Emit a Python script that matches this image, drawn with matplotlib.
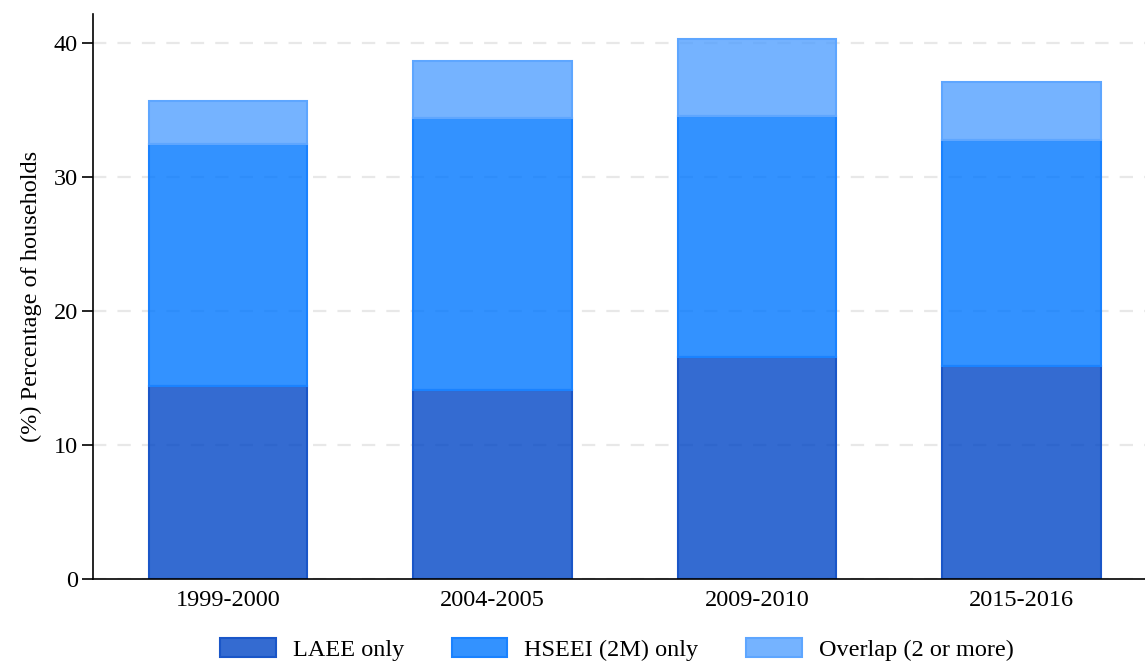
import numpy as np
import matplotlib
matplotlib.use('Agg')
import matplotlib.pyplot as plt
from matplotlib.colors import to_rgba

plt.rcParams['font.family'] = ['Liberation Serif', 'DejaVu Serif']

periods = ['1999-2000', '2004-2005', '2009-2010', '2015-2016']
laee_only = [14.4, 14.1, 16.6, 15.9]
hseei_only = [18.1, 20.3, 18.0, 16.9]
overlap = [3.2, 4.3, 5.7, 4.3]

labels = ['LAEE only', 'HSEEI (2M) only', 'Overlap (2 or more)']
colors = ['#0146c6', '#0077ff', '#52a0ff']
edges = ['#1a56c8', '#1a82ff', '#5ea6ff']

fig = plt.figure(figsize=(11.45, 6.61), dpi=100)
ax = fig.add_axes([0.0812, 0.124, 0.9188, 0.855])

x = np.arange(len(periods))
bottom = np.zeros(len(periods))
for vals, lab, c, e in zip([laee_only, hseei_only, overlap], labels, colors, edges):
    ax.bar(x, vals, 0.6, bottom=bottom, label=lab,
           facecolor=to_rgba(c, 0.8), edgecolor=e, linewidth=1.5, zorder=2)
    bottom = bottom + np.array(vals)

ax.set_xlim(-0.511, 3.468)
ax.set_ylim(0, 42.2)
ax.set_yticks([0, 10, 20, 30, 40])
ax.set_xticks(x)
ax.set_xticklabels(periods)
ax.tick_params(axis='x', length=0, pad=8, labelsize=17.5)
ax.tick_params(axis='y', length=8, width=1.2, labelsize=17.5, pad=3)
ax.yaxis.grid(True, linestyle=(0, (6, 5)), color='#e8e8e8', linewidth=1.6, zorder=0)
ax.set_axisbelow(True)
for s in ['top', 'right']:
    ax.spines[s].set_visible(False)
ax.spines['left'].set_linewidth(1.2)
ax.spines['bottom'].set_linewidth(1.2)
ax.set_ylabel('(%) Percentage of households', fontsize=17.5, labelpad=8)

ax.legend(loc='center', bbox_to_anchor=(0.498, -0.125), ncol=3, frameon=False,
          fontsize=17.5, handlelength=2.3, handleheight=0.8, columnspacing=1.95,
          handletextpad=0.7, borderpad=0)

fig.savefig('out.png', dpi=100)
